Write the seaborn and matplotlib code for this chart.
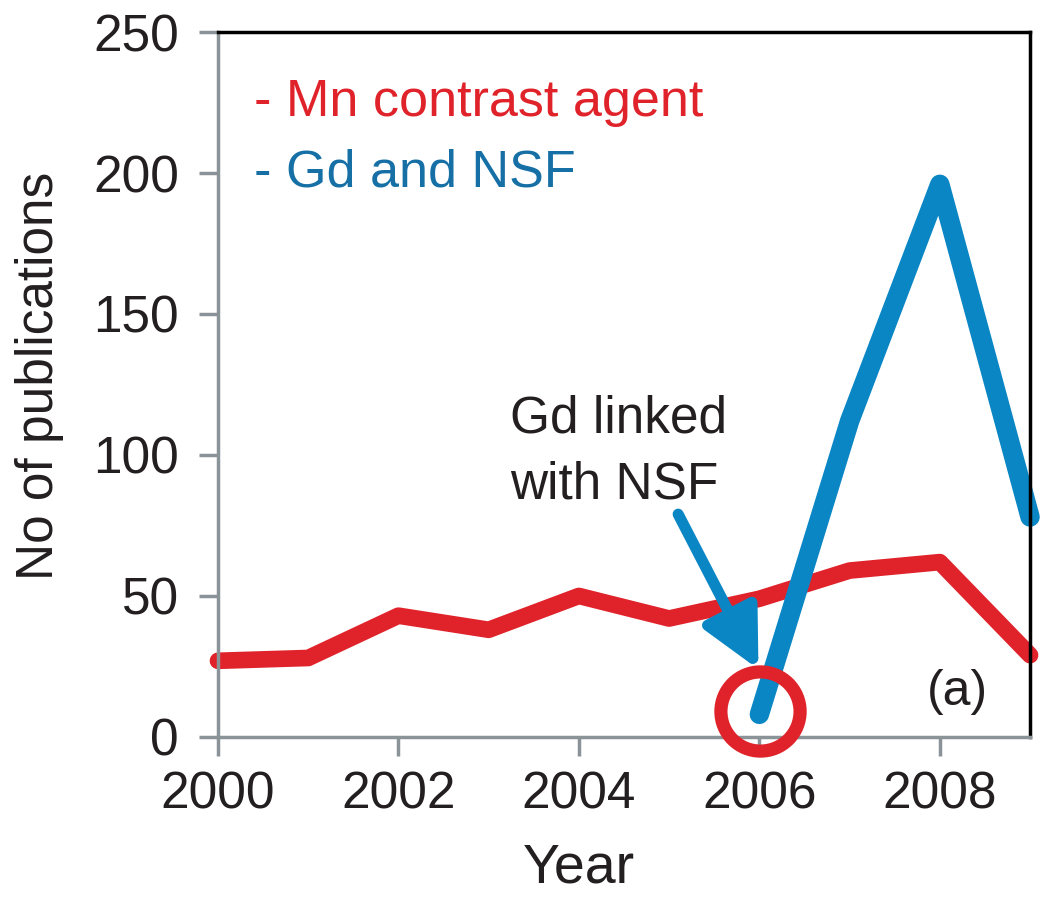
import matplotlib
matplotlib.use("Agg")
import matplotlib.pyplot as plt
import seaborn as sns
import pandas as pd

# data
years = [2000, 2001, 2002, 2003, 2004, 2005, 2006, 2007, 2008, 2009]
mn_pubs = [27, 28, 43, 38, 50, 42, 49, 59, 62, 29]
gd_years = [2006, 2007, 2008, 2009]
gd_pubs = [8, 112, 196, 78]
series_names = ["- Mn contrast agent", "- Gd and NSF"]

red = "#e0232a"
blue = "#0a86c4"
grey = "#8a9498"
ink = "#231f20"

sns.set_theme(style="white")
plt.rcParams["font.family"] = ["Liberation Sans", "DejaVu Sans"]

df = pd.concat([
    pd.DataFrame({"Year": years, "pubs": mn_pubs, "series": series_names[0]}),
    pd.DataFrame({"Year": gd_years, "pubs": gd_pubs, "series": series_names[1]}),
])

fig = plt.figure(figsize=(10.5, 9.02), dpi=100)
ax = fig.add_axes([0.2076, 0.183, 0.7734, 0.7815])

for name, col, lw in [(series_names[0], red, 12), (series_names[1], blue, 14)]:
    sns.lineplot(data=df[df.series == name], x="Year", y="pubs", color=col,
                 linewidth=lw, solid_capstyle="round", solid_joinstyle="round",
                 ax=ax, legend=False, clip_on=False)

ax.set_xlim(2000, 2009)
ax.set_ylim(0, 250)
ax.set_xticks([2000, 2002, 2004, 2006, 2008])
ax.set_yticks([0, 50, 100, 150, 200, 250])
ax.tick_params(axis="both", labelsize=37, colors=ink, direction="out",
               length=14, width=2.5, color=grey, left=True, bottom=True, pad=10)
ax.tick_params(axis="y", pad=14)

for s in ["left", "bottom"]:
    ax.spines[s].set_color(grey)
    ax.spines[s].set_linewidth(2.5)
for s in ["top", "right"]:
    ax.spines[s].set_color("black")
    ax.spines[s].set_linewidth(2.5)

ax.set_xlabel("Year", fontsize=40, color=ink)
ax.xaxis.set_label_coords(0.445, -0.15)
ax.set_ylabel("No of publications", fontsize=37, color=ink)
ax.yaxis.set_label_coords(-0.19, 0.512)

# series labels in place of a legend
ax.text(2000.4, 225, series_names[0], color=red, fontsize=37.5, va="center")
ax.text(2000.4, 200, series_names[1], color="#1670a6", fontsize=37.5, va="center")

# highlight where Gd was linked with NSF
ax.plot([2006.01], [9.2], marker="o", markersize=57, markerfacecolor="none",
        markeredgecolor=red, markeredgewidth=9.5, clip_on=False, zorder=5)
ax.text(2003.24, 101, "Gd linked\nwith NSF", fontsize=37, color=ink,
        ha="left", va="center", linespacing=1.45)
ax.annotate("", xy=(2005.99, 24), xytext=(2005.1, 79),
            arrowprops=dict(arrowstyle="-|>,head_length=1.8,head_width=0.9",
                            mutation_scale=20, color=blue, lw=8,
                            shrinkA=0, shrinkB=0))
ax.text(2008.2, 16, "(a)", fontsize=36, color=ink, ha="center", va="center")

fig.savefig("out.png", dpi=100)
